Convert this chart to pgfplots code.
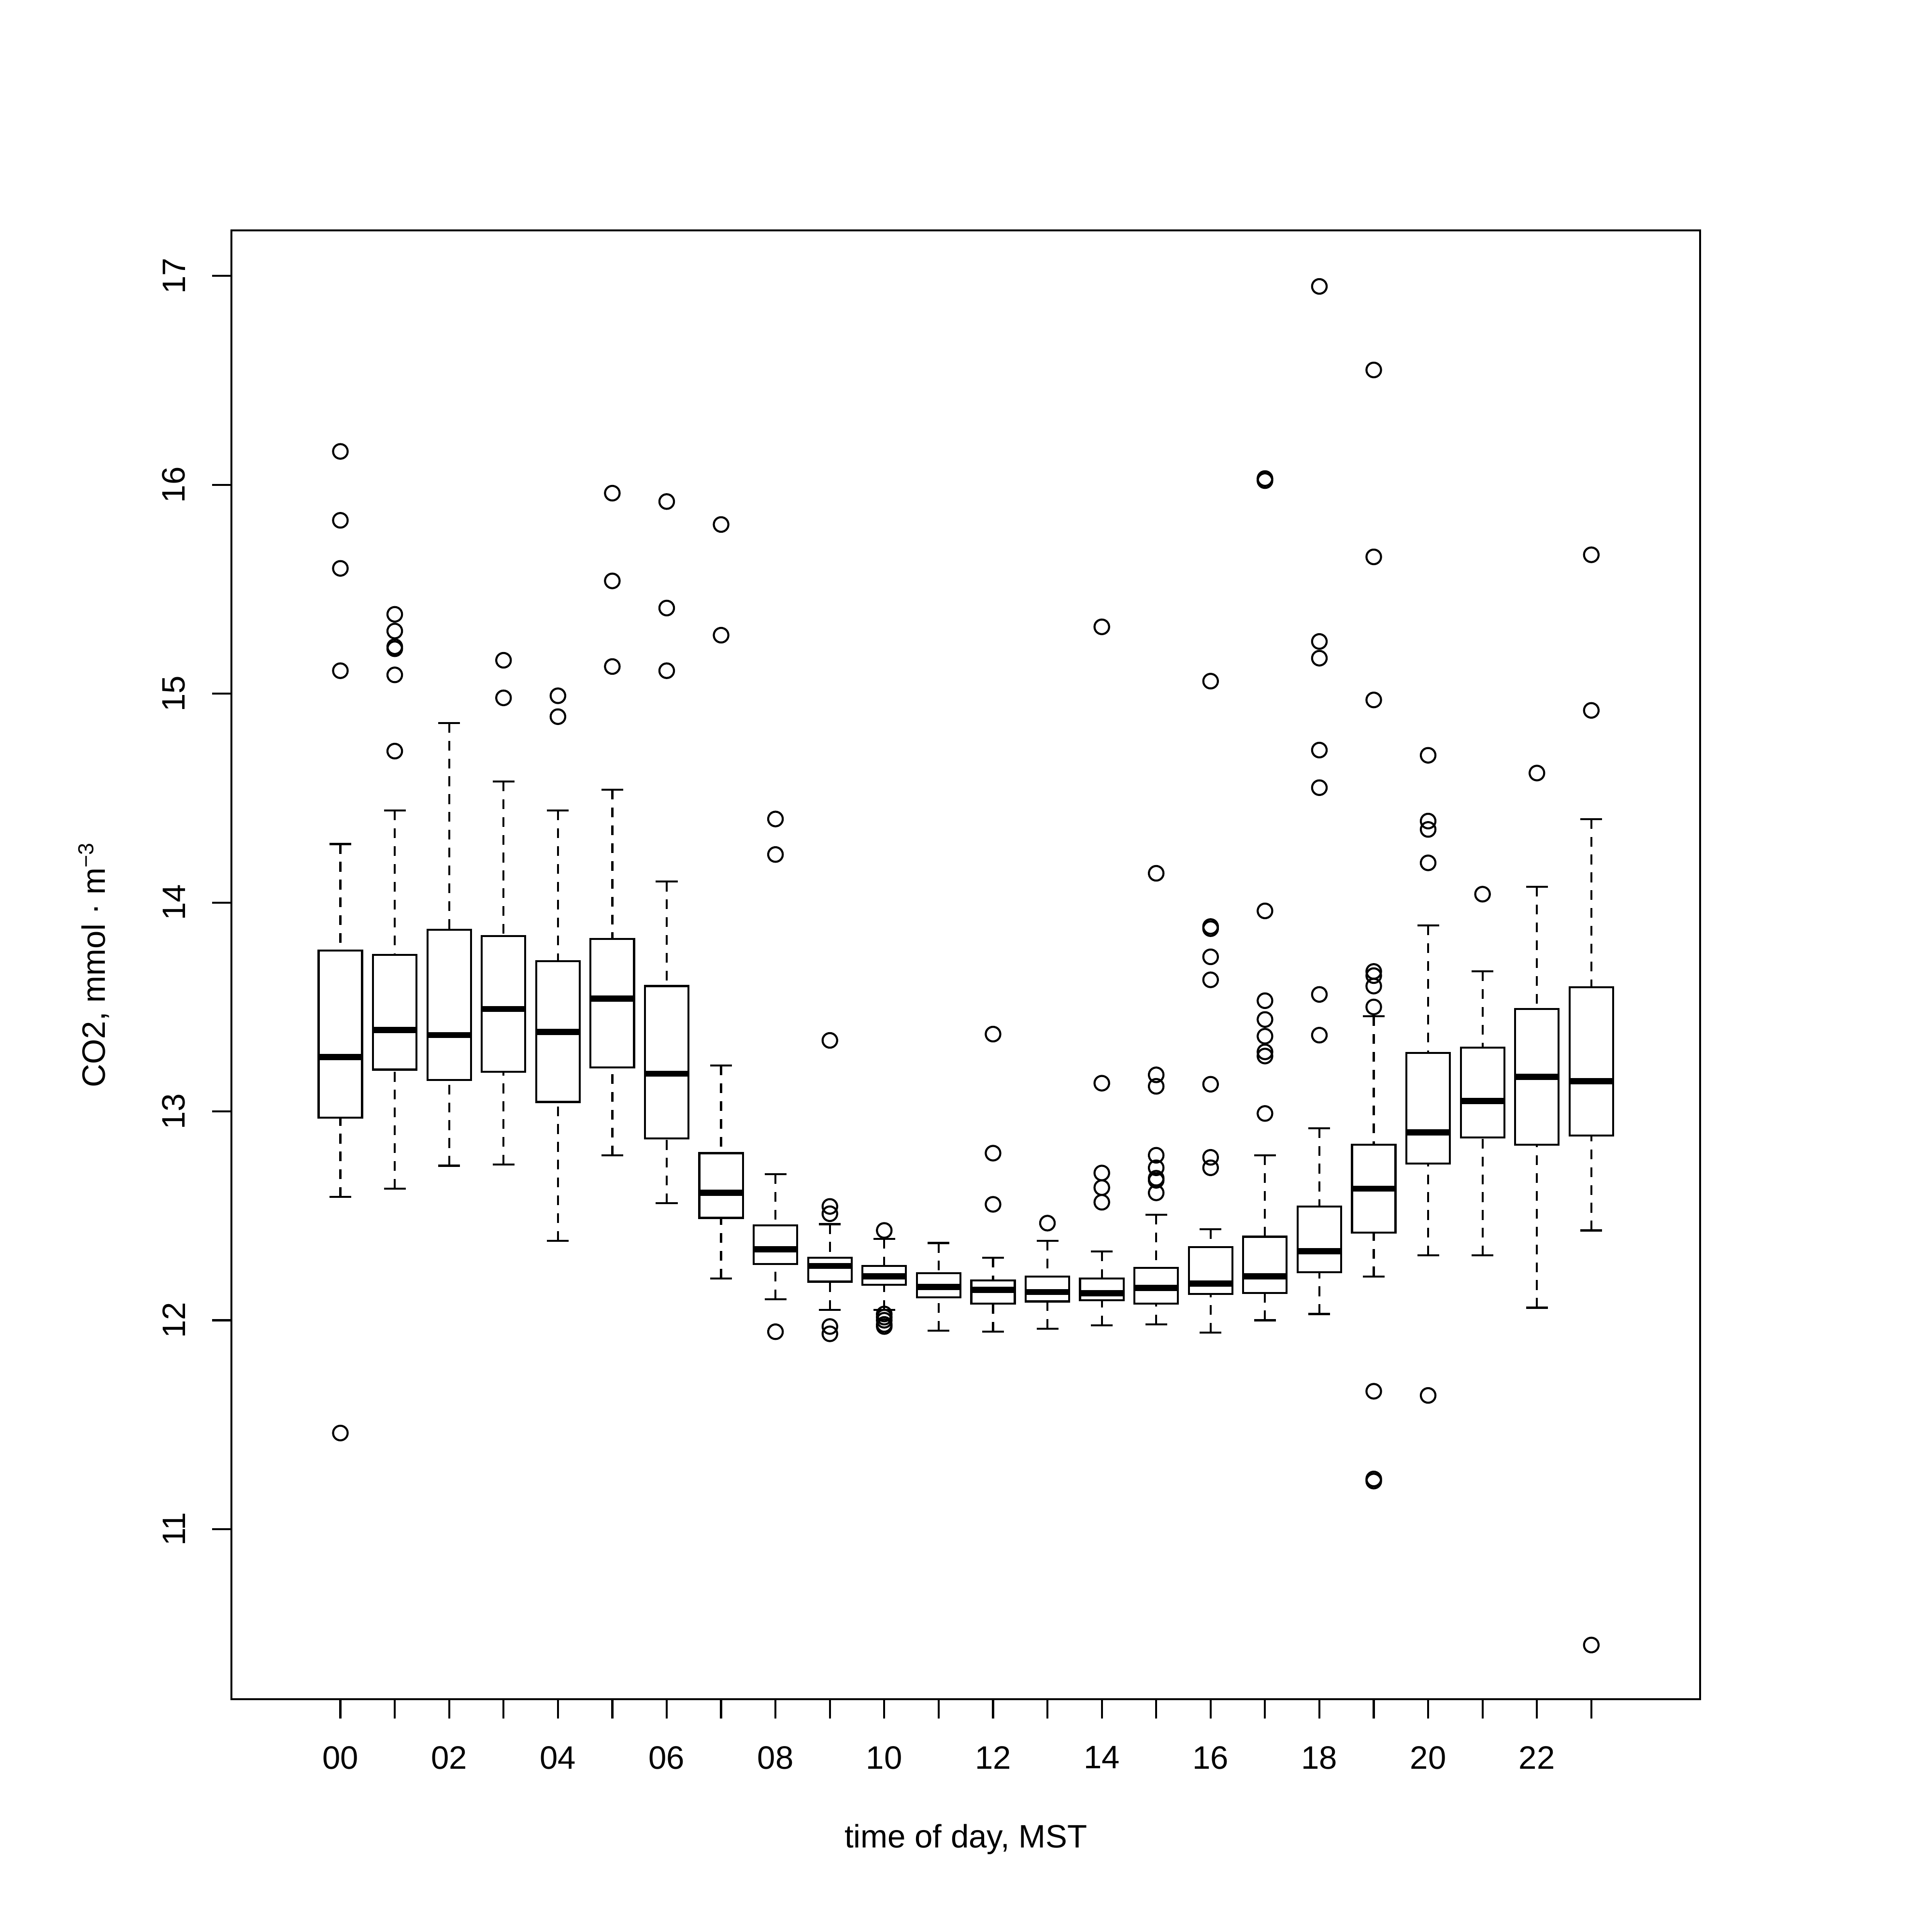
\documentclass[border=0pt]{standalone}
\usepackage{fontspec}
\setmainfont{Liberation Sans}
\usepackage{pgfplots}
\pgfplotsset{compat=1.18}
\usepgfplotslibrary{statistics}
\pgfplotsset{
  rbox/.style={black, line width=0.75pt, mark=o, mark size=2.7pt,
    mark options={solid, line width=0.75pt},
    boxplot/box extend=0.8,
    boxplot/draw/box/.code={%
      \draw[black, line width=0.75pt] (boxplot box cs:\pgfplotsboxplotvalue{lower quartile},0) rectangle (boxplot box cs:\pgfplotsboxplotvalue{upper quartile},1);},
    boxplot/draw/median/.code={%
      \draw[black, line width=2.25pt] (boxplot box cs:\pgfplotsboxplotvalue{median},0) -- (boxplot box cs:\pgfplotsboxplotvalue{median},1);},
    boxplot/draw/lower whisker/.code={%
      \draw[black, line width=0.75pt, dash pattern=on 3.6pt off 3pt] (boxplot box cs:\pgfplotsboxplotvalue{lower whisker},0.5) -- (boxplot box cs:\pgfplotsboxplotvalue{lower quartile},0.5);
      \draw[black, line width=0.75pt] (boxplot box cs:\pgfplotsboxplotvalue{lower whisker},0.25) -- (boxplot box cs:\pgfplotsboxplotvalue{lower whisker},0.75);},
    boxplot/draw/upper whisker/.code={%
      \draw[black, line width=0.75pt, dash pattern=on 3.6pt off 3pt] (boxplot box cs:\pgfplotsboxplotvalue{upper whisker},0.5) -- (boxplot box cs:\pgfplotsboxplotvalue{upper quartile},0.5);
      \draw[black, line width=0.75pt] (boxplot box cs:\pgfplotsboxplotvalue{upper whisker},0.25) -- (boxplot box cs:\pgfplotsboxplotvalue{upper whisker},0.75);},
  }
}
\newcommand{\bx}[6]{\addplot[rbox, boxplot prepared={draw position=#1, lower whisker=#2, lower quartile=#3, median=#4, upper quartile=#5, upper whisker=#6}]}
\begin{document}
\begin{tikzpicture}
\begin{axis}[
  at={(0,0)}, anchor=south west,
  scale only axis, width=543.4pt, height=543.6pt,
  xmin=-2, xmax=25, ymin=10.186, ymax=17.218,
  boxplot/draw direction=y,
  axis line style={line width=0.75pt},
  tick style={black, line width=0.75pt},
  tick align=outside, tick pos=left,
  major tick length=7.2pt,
  xtick={0,...,23},
  xticklabels={00,,02,,04,,06,,08,,10,,12,,14,,16,,18,,20,,22,},
  ytick={11,...,17},
  yticklabels={11,12,13,14,15,16,17},
  ticklabel style={font=\fontsize{12}{14}\selectfont, inner sep=0pt},
  xticklabel style={anchor=north},
  yticklabel style={rotate=90, anchor=south},
  xticklabel shift=10.1pt, yticklabel shift=9.8pt,
  xlabel={time of day, MST},
  ylabel={CO2, mmol · m\textsuperscript{−3}},
  label style={font=\fontsize{12}{14}\selectfont, inner sep=0pt},
  xlabel style={at={(axis description cs:0.5,-0.1013)}, anchor=base},
  ylabel style={at={(axis description cs:-0.086,0.5)}, anchor=base},
]
\bx{0}{12.59}{12.97}{13.26}{13.77}{14.28} table[row sep=\\, y index=0]{v\\16.16\\15.83\\15.60\\15.11\\11.46\\};
\bx{1}{12.63}{13.20}{13.39}{13.75}{14.44} table[row sep=\\, y index=0]{v\\15.38\\15.30\\15.225\\15.215\\15.09\\14.725\\};
\bx{2}{12.74}{13.15}{13.365}{13.87}{14.86} coordinates {};
\bx{3}{12.745}{13.19}{13.49}{13.84}{14.58} table[row sep=\\, y index=0]{v\\15.16\\14.98\\};
\bx{4}{12.38}{13.045}{13.38}{13.72}{14.44} table[row sep=\\, y index=0]{v\\14.99\\14.89\\};
\bx{5}{12.79}{13.21}{13.54}{13.825}{14.54} table[row sep=\\, y index=0]{v\\15.96\\15.54\\15.13\\};
\bx{6}{12.56}{12.87}{13.18}{13.60}{14.10} table[row sep=\\, y index=0]{v\\15.92\\15.41\\15.11\\};
\bx{7}{12.20}{12.49}{12.61}{12.80}{13.22} table[row sep=\\, y index=0]{v\\15.81\\15.28\\};
\bx{8}{12.10}{12.27}{12.34}{12.455}{12.70} table[row sep=\\, y index=0]{v\\14.40\\14.23\\11.945\\};
\bx{9}{12.05}{12.185}{12.26}{12.30}{12.46} table[row sep=\\, y index=0]{v\\13.34\\12.545\\12.51\\11.97\\11.935\\};
\bx{10}{12.05}{12.17}{12.21}{12.26}{12.39} table[row sep=\\, y index=0]{v\\12.43\\12.03\\12.015\\12.00\\11.98\\11.97\\};
\bx{11}{11.95}{12.11}{12.16}{12.225}{12.37} coordinates {};
\bx{12}{11.945}{12.08}{12.145}{12.19}{12.30} table[row sep=\\, y index=0]{v\\13.37\\12.80\\12.555\\};
\bx{13}{11.96}{12.09}{12.135}{12.21}{12.38} table[row sep=\\, y index=0]{v\\12.465\\};
\bx{14}{11.975}{12.095}{12.13}{12.20}{12.33} table[row sep=\\, y index=0]{v\\15.32\\13.135\\12.705\\12.635\\12.565\\};
\bx{15}{11.98}{12.08}{12.155}{12.25}{12.505} table[row sep=\\, y index=0]{v\\14.14\\13.175\\13.12\\12.79\\12.73\\12.68\\12.67\\12.61\\};
\bx{16}{11.94}{12.125}{12.175}{12.35}{12.435} table[row sep=\\, y index=0]{v\\15.06\\13.885\\13.875\\13.74\\13.63\\13.13\\12.78\\12.73\\};
\bx{17}{12.00}{12.13}{12.21}{12.40}{12.79} table[row sep=\\, y index=0]{v\\16.03\\16.02\\13.96\\13.53\\13.44\\13.36\\13.285\\13.265\\12.99\\};
\bx{18}{12.03}{12.23}{12.33}{12.545}{12.92} table[row sep=\\, y index=0]{v\\16.95\\15.25\\15.17\\14.73\\14.55\\13.56\\13.365\\};
\bx{19}{12.21}{12.42}{12.63}{12.84}{13.455} table[row sep=\\, y index=0]{v\\16.55\\15.655\\14.97\\13.67\\13.65\\13.60\\13.50\\11.66\\11.24\\11.23\\};
\bx{20}{12.31}{12.75}{12.90}{13.28}{13.89} table[row sep=\\, y index=0]{v\\14.705\\14.39\\14.35\\14.19\\11.64\\};
\bx{21}{12.31}{12.875}{13.05}{13.305}{13.67} table[row sep=\\, y index=0]{v\\14.04\\};
\bx{22}{12.06}{12.84}{13.165}{13.49}{14.075} table[row sep=\\, y index=0]{v\\14.62\\};
\bx{23}{12.43}{12.885}{13.145}{13.595}{14.40} table[row sep=\\, y index=0]{v\\15.665\\14.92\\10.445\\};
\end{axis}
\path (-85.7pt,-86.2pt) rectangle (629.2pt,628.9pt);
\end{tikzpicture}
\end{document}
